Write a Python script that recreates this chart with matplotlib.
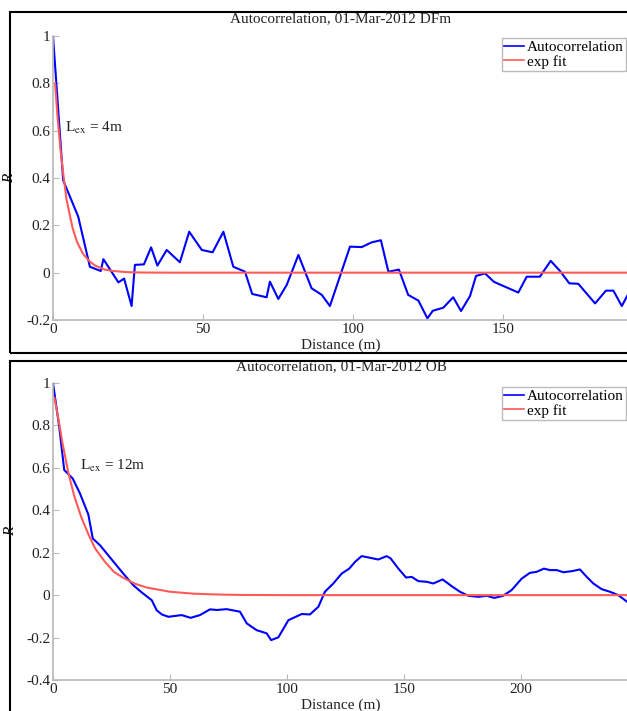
"""Autocorrelation with exponential fit, two sites (01-Mar-2012)."""
import matplotlib
matplotlib.use('Agg')
import matplotlib.pyplot as plt
from matplotlib.patches import Rectangle

plt.rcParams['font.family'] = ['Liberation Serif', 'DejaVu Serif']
plt.rcParams['mathtext.fontset'] = 'stix'
plt.rcParams['font.size'] = 11

# --- Data ---
# DFm
dfm_dist = [0, 3.4, 8.4, 12.3, 15.9, 16.8, 21.8, 23.7, 26.2, 27.3, 30.3, 32.7,
            34.8, 37.9, 42.3, 45.4, 49.6, 53.2, 56.8, 60.1, 64.0, 66.4, 71.2,
            72.3, 75.1, 77.9, 81.8, 86.2, 89.6, 92.3, 99.0, 102.9, 106.2,
            109.3, 111.8, 115.3, 118.4, 121.8, 124.8, 126.6, 130.1, 133.4,
            136.0, 139.0, 141.0, 144.0, 147.0, 155.1, 157.9, 162.3, 165.9,
            169.0, 172.1, 175.1, 180.7, 184.3, 186.8, 189.6, 193.0]
dfm_r = [1.0, 0.39, 0.237, 0.025, 0.007, 0.057, -0.041, -0.025, -0.141, 0.033,
         0.035, 0.107, 0.03, 0.096, 0.044, 0.173, 0.096, 0.086, 0.173, 0.025,
         0.004, -0.09, -0.104, -0.038, -0.111, -0.052, 0.075, -0.066, -0.094,
         -0.141, 0.11, 0.108, 0.128, 0.137, 0.004, 0.013, -0.094, -0.118,
         -0.193, -0.161, -0.148, -0.104, -0.162, -0.099, -0.014, -0.003,
         -0.039, -0.084, -0.017, -0.017, 0.05, 0.007, -0.045, -0.047, -0.13,
         -0.076, -0.076, -0.141, -0.06]
dfm_fit_dist = [0.7, 1.5, 2.5, 3.4, 4.5, 5.5, 6.5, 8, 10, 12, 14, 17, 20, 25,
                30, 40, 200]
dfm_fit_r = [0.80, 0.66, 0.52, 0.42, 0.31, 0.25, 0.19, 0.13, 0.08, 0.05,
             0.03, 0.014, 0.007, 0.002, 0.0005, 0.0, 0.0]
dfm_lex = 4
dfm_xticks = [0, 50, 100, 150]

# OB
ob_dist = [0, 2.7, 4.8, 8.4, 11.5, 15.1, 17.0, 20.1, 23.6, 26.5, 30.0, 34.3,
           37.9, 42.2, 44.3, 46.5, 49.3, 55.0, 58.8, 62.8, 67.1, 70.0, 74.2,
           79.9, 82.8, 87.0, 91.3, 93.2, 96.3, 100.6, 106.3, 109.8, 113.4,
           116.2, 119.8, 123.4, 126.6, 129.1, 131.9, 135.5, 139.0, 142.6,
           144.3, 147.6, 150.9, 153.3, 156.1, 159.7, 162.5, 166.5, 170.4,
           173.9, 177.5, 181.8, 185.3, 188.6, 192.4, 196.0, 200.3, 203.8,
           206.7, 209.8, 212.4, 215.3, 218.1, 221.7, 225.2, 228.1, 230.9,
           234.5, 238.0, 241.6, 245.3, 248.0]
ob_r = [1.0, 0.79, 0.59, 0.55, 0.48, 0.38, 0.267, 0.235, 0.188, 0.149, 0.102,
        0.047, 0.013, -0.024, -0.071, -0.091, -0.102, -0.094, -0.107, -0.094,
        -0.067, -0.07, -0.066, -0.078, -0.133, -0.165, -0.18, -0.212, -0.199,
        -0.118, -0.089, -0.091, -0.055, 0.016, 0.055, 0.102, 0.125, 0.157,
        0.184, 0.176, 0.168, 0.184, 0.173, 0.125, 0.083, 0.086, 0.066, 0.063,
        0.055, 0.074, 0.042, 0.016, -0.003, -0.008, -0.003, -0.013, -0.003,
        0.024, 0.078, 0.105, 0.11, 0.125, 0.118, 0.118, 0.108, 0.113, 0.121,
        0.086, 0.055, 0.028, 0.016, 0.0, -0.031, -0.05]
ob_fit_dist = [0.6, 2, 4, 6.5, 9, 12, 15, 18, 22, 26, 30, 35, 40, 50, 60, 70,
               80, 100, 250]
ob_fit_r = [0.93, 0.85, 0.72, 0.58, 0.47, 0.37, 0.29, 0.22, 0.16, 0.11, 0.082,
            0.054, 0.036, 0.016, 0.007, 0.003, 0.001, 0.0, 0.0]
ob_lex = 12
ob_xticks = [0, 50, 100, 150, 200]

BLUE = '#0000ff'
RED = '#ff5a5a'
SPINE = '#b8b8b8'

W, H = 627, 711
fig = plt.figure(figsize=(W / 100, H / 100), dpi=100)


def px(x0, y_top, w, h):
    """Axes rect from pixel box (left, top, width, height)."""
    return [x0 / W, 1 - (y_top + h) / H, w / W, h / H]


def draw_panel(rect, frame, dist, r, fdist, fr, lex, xmax, xticks, ylo,
               lex_xy, title, title_y, xlabel_y):
    # outer frame of the panel
    fig.add_artist(Rectangle((frame[0] / W, 1 - frame[3] / H),
                             (frame[2] - frame[0]) / W,
                             (frame[3] - frame[1]) / H,
                             transform=fig.transFigure, fill=False,
                             edgecolor='black', linewidth=1.5))
    ax = fig.add_axes(rect)
    ax.plot(dist, r, color=BLUE, linewidth=1.5, label='Autocorrelation')
    ax.plot(fdist, fr, color=RED, linewidth=1.5, label='exp fit')
    ax.set_xlim(0, xmax)
    ax.set_ylim(ylo, 1)
    yt = [round(ylo + 0.2 * i, 1) for i in range(int(round((1 - ylo) / 0.2)) + 1)]
    ax.set_yticks(yt)
    ax.set_yticklabels(['1' if v == 1 else ('0' if v == 0 else f'{v:g}')
                        for v in yt])
    ax.set_xticks(xticks)
    for s in ['top', 'right']:
        ax.spines[s].set_visible(False)
    for s in ['left', 'bottom']:
        ax.spines[s].set_color(SPINE)
        ax.spines[s].set_linewidth(1.2)
    ax.tick_params(direction='in', length=4, color=SPINE, labelcolor='#222222',
                   labelsize=11, pad=2)
    ax.text(lex_xy[0], lex_xy[1], r'L$_\mathrm{ex}$ = %dm' % lex,
            fontsize=11, va='center', ha='left', color='#222222')
    ax.set_ylabel('R', style='italic', fontsize=11)
    ax.yaxis.set_label_coords(-0.062, 0.5)
    fig.text(341 / W, 1 - title_y / H, title, ha='center', va='center',
             fontsize=11, color='#222222')
    fig.text(341 / W, 1 - xlabel_y / H, 'Distance (m)', ha='center',
             va='center', fontsize=11, color='#222222')
    leg = ax.legend(loc='upper right', fontsize=11, frameon=True,
                    fancybox=False, handlelength=1.3, handletextpad=0.2,
                    borderpad=0.15, labelspacing=0.05, borderaxespad=0,
                    bbox_to_anchor=(626 / W, 1 - (frame[1] + 26) / H),
                    bbox_transform=fig.transFigure)
    leg.get_frame().set_edgecolor('#aaaaaa')
    leg.get_frame().set_linewidth(1.0)
    for line in leg.get_lines():
        line.set_linewidth(1.2)
    return ax


draw_panel(px(53, 36, 600, 284), (10, 12, 640, 353),
           dfm_dist, dfm_r, dfm_fit_dist, dfm_fit_r, dfm_lex, 200, dfm_xticks,
           -0.2, (4.0, 0.61), 'Autocorrelation, 01-Mar-2012 DFm', 19, 345)
draw_panel(px(53, 383, 585, 297), (10, 361, 640, 720),
           ob_dist, ob_r, ob_fit_dist, ob_fit_r, ob_lex, 250, ob_xticks,
           -0.4, (11.5, 0.61), 'Autocorrelation, 01-Mar-2012 OB', 367, 705)

fig.savefig('out.png', dpi=100)
